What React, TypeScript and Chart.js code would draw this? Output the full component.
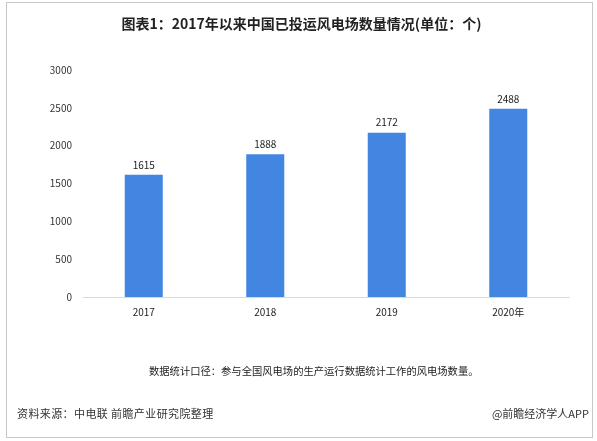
import React, { useEffect, useRef } from "react";
import { Chart, registerables } from "chart.js";

Chart.register(...registerables);

const categories = ["2017", "2018", "2019", "2020年"];
const farmCounts = [1615, 1888, 2172, 2488];
const yTicks = [0, 500, 1000, 1500, 2000, 2500, 3000];

const titleText = "图表1：2017年以来中国已投运风电场数量情况(单位：个)";
const noteText = "数据统计口径：参与全国风电场的生产运行数据统计工作的风电场数量。";
const sourceText = "资料来源：中电联 前瞻产业研究院整理";
const brandText = "@前瞻经济学人APP";

const FONT = "'Noto Sans CJK SC', 'Noto Sans', sans-serif";

const valueLabels = {
  id: "valueLabels",
  afterDatasetsDraw(chart: any) {
    const ctx = chart.ctx;
    const meta = chart.getDatasetMeta(0);
    ctx.save();
    ctx.font = `10px ${FONT}`;
    ctx.fillStyle = "#222";
    ctx.textAlign = "center";
    ctx.textBaseline = "bottom";
    meta.data.forEach((bar: any, i: number) => {
      ctx.fillText(String(farmCounts[i]), bar.x, bar.y - 5);
    });
    ctx.restore();
  },
};

export default function App() {
  const ref = useRef<HTMLCanvasElement>(null);

  useEffect(() => {
    if (!ref.current) return;
    const chart = new Chart(ref.current, {
      type: "bar",
      data: {
        labels: categories,
        datasets: [
          {
            data: farmCounts,
            backgroundColor: "#4286E2",
            borderWidth: 0,
            barPercentage: 0.313,
            categoryPercentage: 1,
          },
        ],
      },
      options: {
        animation: false,
        responsive: false,
        maintainAspectRatio: false,
        layout: { padding: { top: 70, left: 0, right: 28, bottom: 114 } },
        plugins: {
          legend: { display: false },
          tooltip: { enabled: false },
          title: { display: false },
        },
        scales: {
          x: {
            grid: { display: false, drawTicks: false },
            border: { display: true, color: "#d9d9d9", width: 1 },
            ticks: {
              padding: 9,
              color: "#222",
              font: { family: FONT, size: 10 },
              maxRotation: 0,
            },
            afterFit: (s: any) => {
              s.height = 30;
            },
          },
          y: {
            min: 0,
            max: 3000,
            grid: { display: false, drawTicks: false },
            border: { display: false },
            afterBuildTicks: (s: any) => {
              s.ticks = yTicks.map((v) => ({ value: v }));
            },
            ticks: {
              padding: 11,
              color: "#333",
              font: { family: FONT, size: 10 },
              callback: (v: any) => String(v),
            },
            afterFit: (s: any) => {
              s.width = 83;
            },
          },
        },
      },
      plugins: [valueLabels],
    });
    return () => chart.destroy();
  }, []);

  return (
    <div
      style={{
        position: "absolute",
        left: 0,
        top: 0,
        width: 597,
        height: 441,
        background: "#fff",
        fontFamily: FONT,
        overflow: "hidden",
      }}
    >
      <div
        style={{
          position: "absolute",
          left: 6,
          top: 2,
          width: 585,
          height: 434,
          border: "1px solid #c8c8c8",
        }}
      />
      <canvas
        ref={ref}
        width={597}
        height={441}
        style={{ position: "absolute", left: 0, top: 0, width: 597, height: 441 }}
      />
      <div
        style={{
          position: "absolute",
          left: 0,
          width: 597,
          top: 13,
          textAlign: "center",
          fontSize: 14,
          fontWeight: "bold",
          color: "#222",
          lineHeight: "20px",
          paddingLeft: 6,
          boxSizing: "border-box",
        }}
      >
        {titleText}
      </div>
      <div
        style={{
          position: "absolute",
          left: 149,
          top: 363,
          fontSize: 10.3,
          color: "#222",
          lineHeight: "16px",
          whiteSpace: "nowrap",
        }}
      >
        {noteText}
      </div>
      <div
        style={{
          position: "absolute",
          left: 17,
          top: 405,
          fontSize: 11,
          color: "#333",
          lineHeight: "16px",
          letterSpacing: 0.4,
          whiteSpace: "nowrap",
        }}
      >
        {sourceText}
      </div>
      <div
        style={{
          position: "absolute",
          right: 8,
          top: 405,
          fontSize: 11,
          color: "#333",
          lineHeight: "16px",
          whiteSpace: "nowrap",
        }}
      >
        {brandText}
      </div>
    </div>
  );
}
